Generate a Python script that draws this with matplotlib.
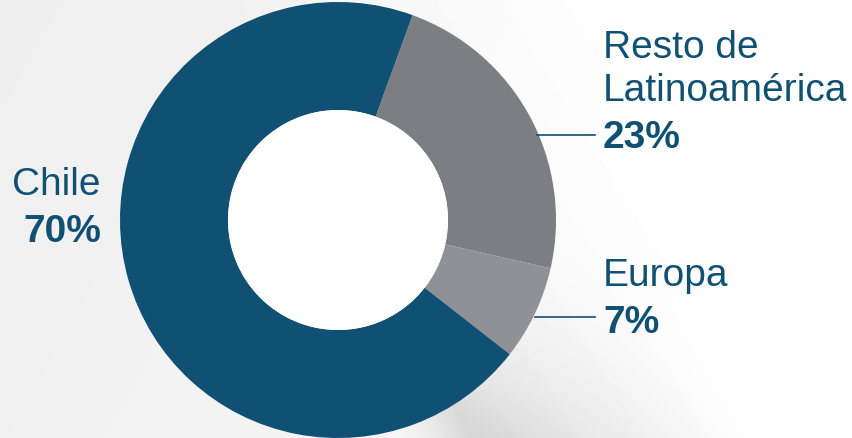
import numpy as np
import matplotlib.pyplot as plt
from matplotlib.patches import Circle

labels = ['Resto de\nLatinoamérica', 'Europa', 'Chile']
shares = [23, 7, 70]
colors = ['#7d7e83', '#909196', '#0f5073']
W, H = 853, 438
TXT = '#0f5073'


def yy(y):
    # convert pixel row (from top) to data y
    return H - y


def background(ax):
    x, y = np.meshgrid(np.arange(W), np.arange(H))
    u = (x * 128 - y * 80) / 151.0
    img = 0.935 + 0.035 * np.clip(x / W, 0, 1) + 0.01 * (y / H)
    # stepped diagonal bands
    steps = np.floor((u - 150) / 55)
    img += 0.006 * np.clip(steps, 0, 6)
    # shadow falling to the lower right of the ring
    rise = np.clip((u - 110) / 60, 0, 1)
    fall = np.clip(1 - (u - 170) / 260, 0, 1)
    s = rise * fall * np.clip((y - 230) / 208, 0, 1)
    img -= 0.13 * s ** 1.3
    ax.imshow(img, extent=(0, W, 0, H), cmap='gray', vmin=0, vmax=1,
              origin='upper', aspect='auto', zorder=0, interpolation='bilinear')


def main():
    plt.rcParams['font.family'] = ['Liberation Sans', 'DejaVu Sans']
    fig = plt.figure(figsize=(W / 100, H / 100), dpi=100)
    ax = fig.add_axes([0, 0, 1, 1])
    background(ax)

    cx, cy, r = 338, yy(220), 218
    ax.pie(shares, colors=colors, startangle=70, counterclock=False,
           center=(cx, cy), radius=r, frame=True,
           wedgeprops=dict(width=108, linewidth=0, zorder=2))
    ax.add_patch(Circle((cx, cy), r - 108, facecolor='white', lw=0, zorder=2))

    fs = 28
    ax.text(603, yy(58), 'Resto de', fontsize=fs, color=TXT, zorder=3)
    ax.text(603, yy(101), 'Latinoamérica', fontsize=fs, color=TXT, zorder=3)
    ax.text(603, yy(148), f'{shares[0]}%', fontsize=fs, color=TXT,
            fontweight='bold', zorder=3)
    ax.text(603, yy(286), 'Europa', fontsize=fs, color=TXT, zorder=3)
    ax.text(603, yy(333), f'{shares[1]}%', fontsize=fs, color=TXT,
            fontweight='bold', zorder=3)
    ax.text(101, yy(195), 'Chile', fontsize=fs, color=TXT, ha='right', zorder=3)
    ax.text(101, yy(242), f'{shares[2]}%', fontsize=fs, color=TXT,
            fontweight='bold', ha='right', zorder=3)

    ax.plot([537, 595], [yy(135), yy(135)], color=TXT, lw=1.2, zorder=3)
    ax.plot([535, 595], [yy(317), yy(317)], color=TXT, lw=1.2, zorder=3)

    ax.set_xlim(0, W)
    ax.set_ylim(0, H)
    ax.set_aspect('auto')
    ax.axis('off')
    fig.savefig('out.png', dpi=100)


if __name__ == '__main__':
    main()
